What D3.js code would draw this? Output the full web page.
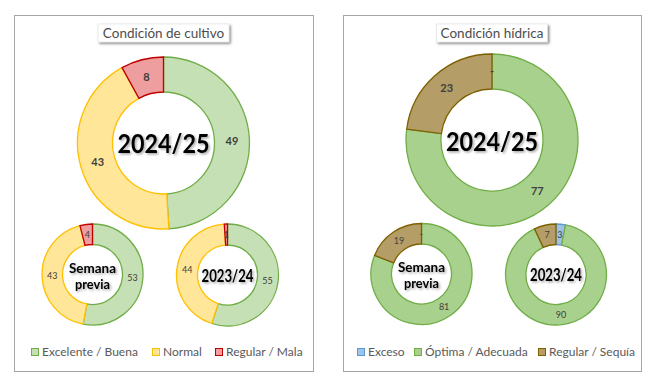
<html>
<head>
<title>Condición de cultivo / hídrica</title>
<style>
  body { margin: 0; background: #fff; }
  text { font-family: Lato, "Open Sans", sans-serif; }
</style>
</head>
<body>
<script src="https://d3js.org/d3.v7.min.js"></script>
<script>
// categorias y valores
var cultivoCats = ["Excelente / Buena", "Normal", "Regular / Mala"];
var cultivoActual = [49, 43, 8];
var cultivoPrevia = [53, 43, 4];
var cultivoAnterior = [55, 44, 1];

var hidricaCats = ["Exceso", "Óptima / Adecuada", "Regular / Sequía"];
var hidricaActual = [0, 77, 23];
var hidricaPrevia = [0, 81, 19];
var hidricaAnterior = [3, 90, 7];

var cultivoFill = ["#C5E0B4", "#FFE699", "#EE9E9E"];
var cultivoStroke = ["#70AD47", "#FFC000", "#C00000"];
var hidricaFill = ["#9DC3E6", "#A9D18E", "#B49D66"];
var hidricaStroke = ["#5B9BD5", "#70AD47", "#7F6000"];

var w = 652, h = 377;
var svg = d3.select("body").append("svg").attr("width", w).attr("height", h);

var defs = svg.append("defs");
var f1 = defs.append("filter").attr("id", "boxShadow").attr("x", "-20%").attr("y", "-40%").attr("width", "150%").attr("height", "200%");
f1.append("feDropShadow").attr("dx", 1.5).attr("dy", 1.5).attr("stdDeviation", 1.2).attr("flood-color", "#000").attr("flood-opacity", 0.5);
var f2 = defs.append("filter").attr("id", "txtShadow").attr("x", "-20%").attr("y", "-40%").attr("width", "150%").attr("height", "200%");
f2.append("feDropShadow").attr("dx", 1.5).attr("dy", 1.5).attr("stdDeviation", 1).attr("flood-color", "#000").attr("flood-opacity", 0.35);

var pie = d3.pie().sort(null).value(function(d) { return d; });

function donut(cx, cy, rIn, rOut, values, fills, strokes, labelSize, labelWeight) {
    var g = svg.append("g").attr("transform", "translate(" + cx + "," + cy + ")");
    var arc = d3.arc().innerRadius(rIn).outerRadius(rOut);
    var arcs = pie(values);
    g.selectAll("path").data(arcs).enter().append("path")
        .attr("d", arc)
        .attr("fill", function(d, i) { return fills[i]; })
        .attr("stroke", function(d, i) { return strokes[i]; })
        .attr("stroke-width", 1.3);
    g.selectAll(".lbl").data(arcs).enter().append("text")
        .attr("class", "lbl")
        .attr("x", function(d) { return arc.centroid(d)[0]; })
        .attr("y", function(d) { return arc.centroid(d)[1]; })
        .attr("dy", "0.35em")
        .attr("text-anchor", "middle")
        .attr("font-size", labelSize)
        .attr("font-weight", labelWeight)
        .attr("fill", "#404040")
        .text(function(d) { return d.data === 0 ? "-" : d.data; });
    return g;
}

function centerText(cx, cy, lines, size, widths, baselines) {
    lines.forEach(function(t, i) {
        svg.append("text")
            .attr("x", cx)
            .attr("y", cy + baselines[i])
            .attr("text-anchor", "middle")
            .attr("font-family", "Roboto, sans-serif")
            .attr("font-weight", "bold")
            .attr("font-size", size)
            .attr("textLength", widths[i])
            .attr("lengthAdjust", "spacingAndGlyphs")
            .attr("filter", "url(#txtShadow)")
            .attr("fill", "#000")
            .text(t);
    });
}

function panel(x0, x1, title, titleW, cats, fills, strokes, legendX) {
    svg.append("rect").attr("x", x0 + 0.5).attr("y", 15.5).attr("width", x1 - x0).attr("height", 356)
        .attr("fill", "#fff").attr("stroke", "#A6A6A6").attr("stroke-width", 1);
    var cx = (x0 + x1) / 2;
    svg.append("rect").attr("x", cx - titleW / 2).attr("y", 24).attr("width", titleW).attr("height", 18)
        .attr("fill", "#fff").attr("stroke", "#D9D9D9").attr("stroke-width", 0.5)
        .attr("filter", "url(#boxShadow)");
    svg.append("text").attr("x", cx).attr("y", 37.5).attr("text-anchor", "middle")
        .attr("font-size", 13.5).attr("fill", "#4D4D4D").text(title);

    var lg = svg.append("g");
    cats.forEach(function(c, i) {
        lg.append("rect").attr("x", legendX[i] + 0.5).attr("y", 348.5).attr("width", 7).attr("height", 7)
            .attr("fill", fills[i]).attr("stroke", strokes[i]).attr("stroke-width", 1);
        lg.append("text").attr("x", legendX[i] + 11).attr("y", 356).attr("font-size", 12)
            .attr("fill", "#595959").text(c);
    });
}

// panel izquierdo
panel(14, 313, "Condición de cultivo", 131, cultivoCats, cultivoFill, cultivoStroke, [31, 152, 215]);
donut(163.5, 143, 51, 86, cultivoActual, cultivoFill, cultivoStroke, 11, "bold");
donut(92.5, 274.5, 30, 50.5, cultivoPrevia, cultivoFill, cultivoStroke, 9, "normal");
donut(227.5, 275, 30, 51, cultivoAnterior, cultivoFill, cultivoStroke, 9, "normal");
centerText(163.5, 143, ["2024/25"], 26, [92], [9.5]);
centerText(92.5, 274.5, ["Semana", "previa"], 14, [47, 35], [-2, 14]);
centerText(227.5, 275, ["2023/24"], 16.5, [52], [7]);

// panel derecho
panel(343, 641, "Condición hídrica", 111, hidricaCats, hidricaFill, hidricaStroke, [357, 414, 538]);
donut(492, 140, 51, 86, hidricaActual, hidricaFill, hidricaStroke, 11, "bold");
donut(421.5, 274, 30, 50.5, hidricaPrevia, hidricaFill, hidricaStroke, 9, "normal");
donut(556, 274.5, 30, 50.5, hidricaAnterior, hidricaFill, hidricaStroke, 9, "normal");
centerText(492, 140, ["2024/25"], 26, [92], [10.5]);
centerText(421.5, 274, ["Semana", "previa"], 14, [47, 35], [-2, 14]);
centerText(556, 274.5, ["2023/24"], 16.5, [52], [6.5]);
</script>
</body>
</html>
